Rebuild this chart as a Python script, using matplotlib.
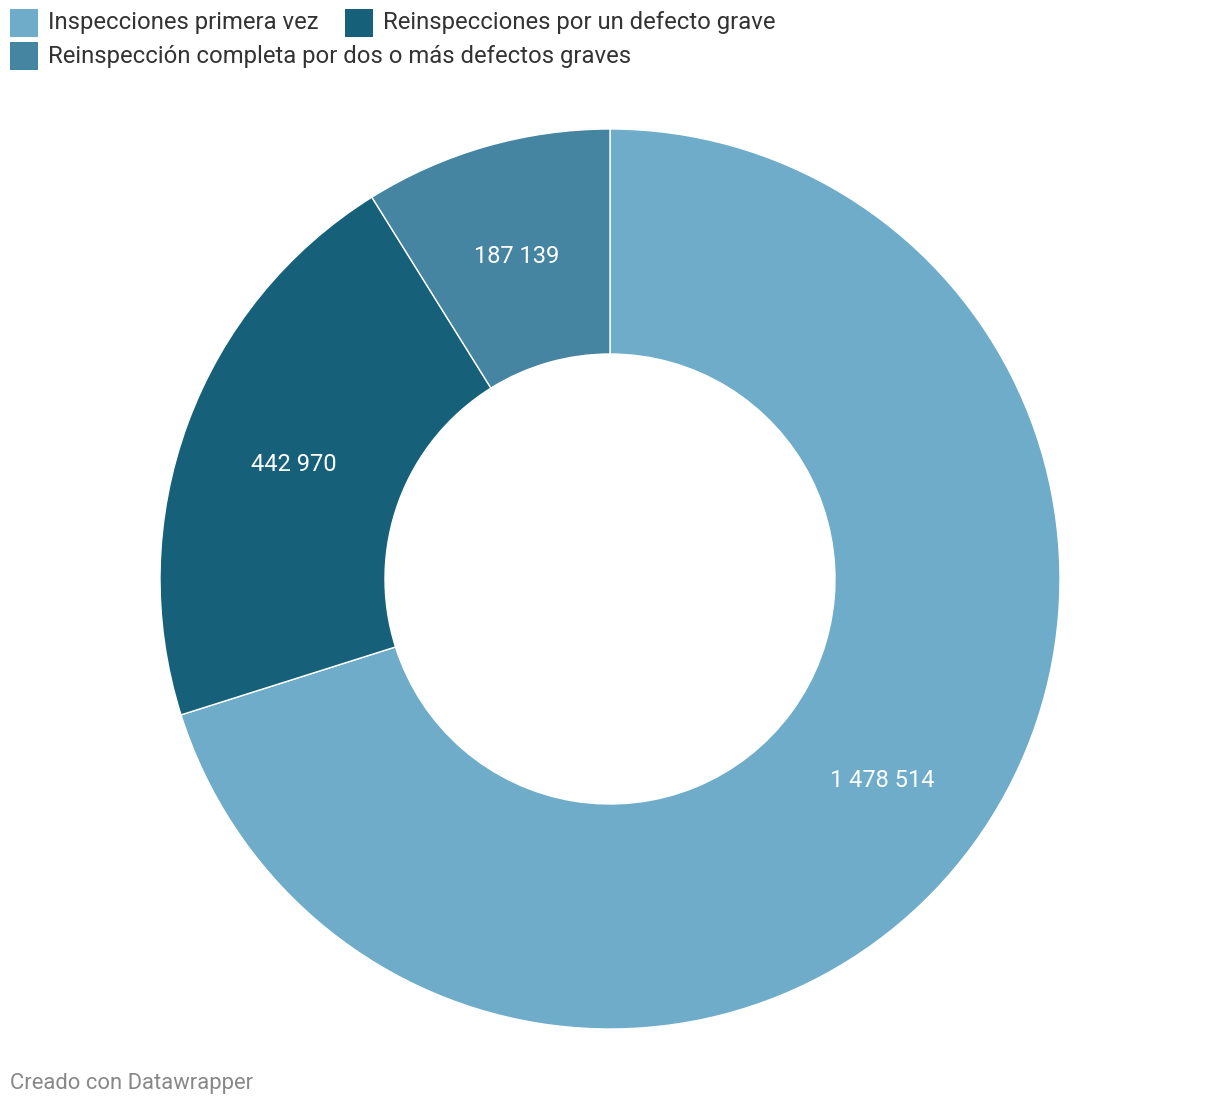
import matplotlib
matplotlib.use('Agg')
import matplotlib.pyplot as plt
import matplotlib.patches as mpatches

plt.rcParams['font.family'] = ['Roboto', 'DejaVu Sans']

categories = ['Inspecciones primera vez',
              'Reinspecciones por un defecto grave',
              'Reinspección completa por dos o más defectos graves']
values = [1478514, 442970, 187139]
colors = ['#6eacc9', '#17607a', '#4585a1']

W, H = 1220, 1106
fig = plt.figure(figsize=(W / 100, H / 100), dpi=100)
ax = fig.add_axes([0, 0, 1, 1])

total = sum(values)

def fmt(p):
    v = int(round(p * total / 100))
    return f'{v:,}'.replace(',', ' ')

wedges, texts, autotexts = ax.pie(
    values, colors=colors, startangle=90, counterclock=False,
    center=(610, H - 579), radius=450,
    wedgeprops=dict(width=225, edgecolor='white', linewidth=1),
    autopct=fmt, pctdistance=0.75,
    textprops=dict(color='white', fontsize=17),
)
# nudge value labels down a touch
for t in autotexts:
    x, y = t.get_position()
    t.set_position((x, y - 2))

ax.set_xlim(0, W)
ax.set_ylim(0, H)
ax.set_aspect('equal')
ax.axis('off')

# legend drawn by hand
leg = [(10, 9, 0), (345, 9, 1), (10, 42, 2)]
for x, y, i in leg:
    ax.add_patch(mpatches.Rectangle((x, H - y - 28), 28, 28, facecolor=colors[i],
                                    edgecolor='none'))
    ax.text(x + 38, H - y - 14, categories[i], fontsize=17.2, color='#333333',
            va='center', ha='left')

ax.text(10, H - 1083, 'Creado con Datawrapper', fontsize=15.8, color='#888888',
        va='center', ha='left')

fig.savefig('out.png', dpi=100, facecolor='white')
